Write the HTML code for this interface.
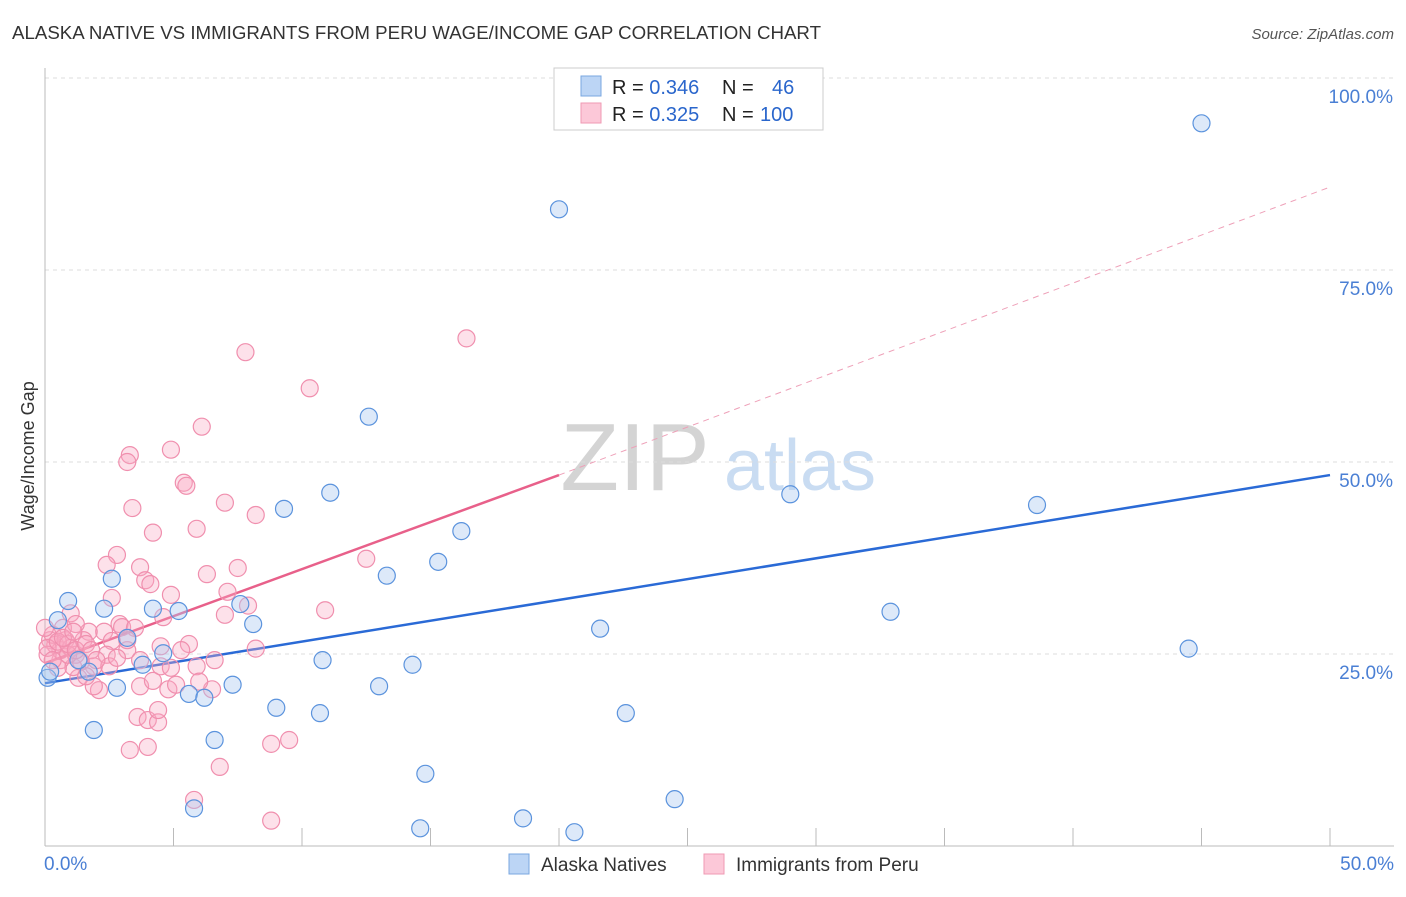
<!DOCTYPE html>
<html><head><meta charset="utf-8"><style>
body{margin:0;background:#fff;font-family:"Liberation Sans",sans-serif;}
svg text{font-family:"Liberation Sans",sans-serif;}
</style></head><body>
<svg id="chart" width="1406" height="892" xmlns="http://www.w3.org/2000/svg">
<text x="12" y="39" font-size="18" fill="#333" textLength="809" lengthAdjust="spacingAndGlyphs">ALASKA NATIVE VS IMMIGRANTS FROM PERU WAGE/INCOME GAP CORRELATION CHART</text>
<text x="1394" y="39" font-size="15" fill="#555" text-anchor="end" font-style="italic">Source: ZipAtlas.com</text>
<text transform="translate(34,456) rotate(-90)" font-size="18" fill="#333" text-anchor="middle">Wage/Income Gap</text>
<g><text x="635" y="490" font-size="96" fill="#d4d4d4" text-anchor="middle" font-family="Liberation Serif,serif">ZIP</text><text x="800" y="490" font-size="72" fill="#c9dcf2" text-anchor="middle">atlas</text></g>
<g id="grid"></g><g id="axes"></g><g id="lines"></g><g id="pts"></g>
<g>
<rect x="554" y="68" width="269" height="62" fill="#fff" stroke="#ccc"/>
<rect x="581" y="76" width="20" height="20" fill="#bcd5f5" stroke="#7aa7e0"/>
<rect x="581" y="103" width="20" height="20" fill="#fcc8d8" stroke="#ef9ab3"/>
<text x="612" y="94" font-size="20" fill="#222">R = <tspan fill="#2a66cc">0.346</tspan><tspan x="722">N = </tspan><tspan x="772" fill="#2a66cc">46</tspan></text>
<text x="612" y="121" font-size="20" fill="#222">R = <tspan fill="#2a66cc">0.325</tspan><tspan x="722">N = </tspan><tspan x="760" fill="#2a66cc">100</tspan></text>
</g>
<g>
<rect x="509" y="854" width="20" height="20" fill="#bcd5f5" stroke="#7aa7e0"/>
<text x="541" y="871" font-size="19" fill="#333">Alaska Natives</text>
<rect x="704" y="854" width="20" height="20" fill="#fcc8d8" stroke="#ef9ab3"/>
<text x="736" y="871" font-size="19" fill="#333">Immigrants from Peru</text>
</g>
</svg>
<script>
const blue=[[45.0,94.1],[20.0,82.9],[12.6,55.9],[11.1,46.0],[9.3,43.9],[16.2,41.0],[15.3,37.0],[13.3,35.2],[2.6,34.8],[0.9,31.9],[2.3,30.9],[4.2,30.9],[5.2,30.6],[7.6,31.5],[8.1,28.9],[0.5,29.4],[3.2,27.1],[4.6,25.1],[3.8,23.6],[10.8,24.2],[14.3,23.6],[21.6,28.3],[29.0,45.8],[38.6,44.4],[32.9,30.5],[44.5,25.7],[2.8,20.6],[5.6,19.8],[6.2,19.3],[7.3,21.0],[13.0,20.8],[9.0,18.0],[10.7,17.3],[22.6,17.3],[1.9,15.1],[6.6,13.8],[14.8,9.4],[24.5,6.1],[5.8,4.9],[18.6,3.6],[14.6,2.3],[20.6,1.8],[0.1,21.9],[0.2,22.7],[1.7,22.7],[1.3,24.2]];
const pink=[[16.4,66.1],[7.8,64.3],[10.3,59.6],[6.1,54.6],[4.9,51.6],[3.3,50.9],[3.2,50.0],[5.4,47.3],[5.5,46.9],[7.0,44.7],[3.4,44.0],[8.2,43.1],[5.9,41.3],[4.2,40.8],[2.8,37.9],[12.5,37.4],[2.4,36.6],[3.7,36.3],[7.5,36.2],[6.3,35.4],[3.9,34.6],[4.1,34.1],[7.1,33.1],[2.6,32.3],[7.9,31.3],[4.9,32.7],[10.9,30.7],[1.0,30.3],[4.6,29.8],[7.0,30.1],[2.9,28.9],[3.0,28.5],[3.5,28.4],[5.6,26.3],[8.2,25.7],[4.5,26.0],[2.3,27.9],[1.7,27.9],[2.6,26.7],[3.2,25.5],[2.4,24.9],[5.9,23.4],[3.7,20.8],[4.2,21.5],[4.8,20.4],[5.1,21.0],[6.5,20.4],[2.1,20.3],[1.9,20.8],[1.3,21.9],[1.1,23.3],[0.6,24.2],[3.6,16.8],[4.0,16.4],[4.4,16.1],[4.4,17.7],[3.3,12.5],[4.0,12.9],[8.8,13.3],[9.5,13.8],[6.8,10.3],[5.8,6.0],[8.8,3.3],[0.2,26.8],[0.4,26.2],[0.6,25.5],[0.1,24.9],[0.3,27.5],[0.8,26.8],[1.0,25.8],[1.2,24.9],[1.4,24.0],[0.5,23.2],[0.7,28.4],[1.2,28.9],[0.9,24.9],[0.1,25.8],[0.3,24.2],[0.5,26.6],[0.0,28.4],[1.5,26.8],[1.9,23.4],[2.5,23.4],[2.8,24.5],[3.2,26.8],[3.7,24.2],[4.5,23.4],[5.3,25.5],[6.0,21.4],[6.6,24.2],[4.9,23.2],[1.6,22.1],[0.9,26.3],[1.2,25.5],[0.7,27.1],[1.1,27.9],[1.6,26.3],[1.8,25.5],[2.0,24.2]];
const blueFit=[21.2,48.3];
const pinkFit=[23.8,48.3,85.8];
const yTicks=[25,50,75,100];
const xTickLabels=["0.0%","50.0%"];
const NS="http://www.w3.org/2000/svg";
const X=v=>45+v*25.7, Y=v=>846-v*7.68;
function mk(g,tag,a){const e=document.createElementNS(NS,tag);for(const k in a)e.setAttribute(k,a[k]);document.getElementById(g).appendChild(e);return e;}
yTicks.forEach(t=>{
 const l=mk('grid','line',{x1:45,x2:1394,y1:Y(t),y2:Y(t),stroke:'#ddd','stroke-dasharray':'4,4'});
 
 
 const tx=mk('grid','text',{x:1393,y:Y(t)+25,'font-size':19,fill:'#4a7fd4','text-anchor':'end'});
 tx.textContent=t.toFixed(1)+'%';
 
 
});
let a=mk('axes','line',{x1:45,x2:45,y1:68,y2:846,stroke:'#bbb'});


a=mk('axes','line',{x1:45,x2:1394,y1:846,y2:846,stroke:'#bbb'});


for(let i=0;i<=10;i++){
 const t=mk('axes','line',{x1:X(i*5),x2:X(i*5),y1:828,y2:846,stroke:'#bbb'});
 
 
}
[[0,'start',44],[50,'end',1394]].forEach((d,i)=>{
 const t=mk('axes','text',{x:d[2],y:870,'font-size':19,fill:'#4a7fd4','text-anchor':d[1]});
 t.textContent=xTickLabels[i];
 
 
});
function dot(p,fill,stroke,name){
 const c=mk('pts','circle',{cx:X(p[0]),cy:Y(p[1]),r:8.5,fill:fill,stroke:stroke,'stroke-width':1.2});
 
 
}
pink.forEach(p=>dot(p,'rgba(248,170,195,0.35)','#f08fae','peru-point'));
blue.forEach(p=>dot(p,'rgba(170,200,240,0.4)','#5b93dd','alaska-point'));
let l=mk('lines','line',{x1:X(0),y1:Y(blueFit[0]),x2:X(50),y2:Y(blueFit[1]),stroke:'#2a6ad6','stroke-width':2.5});


l=mk('lines','line',{x1:X(0),y1:Y(pinkFit[0]),x2:X(20),y2:Y(pinkFit[1]),stroke:'#e8608a','stroke-width':2.5});


l=mk('lines','line',{x1:X(20),y1:Y(pinkFit[1]),x2:X(50),y2:Y(pinkFit[2]),stroke:'#eea0b8','stroke-width':1,'stroke-dasharray':'6,5'});


</script>
</body></html>
